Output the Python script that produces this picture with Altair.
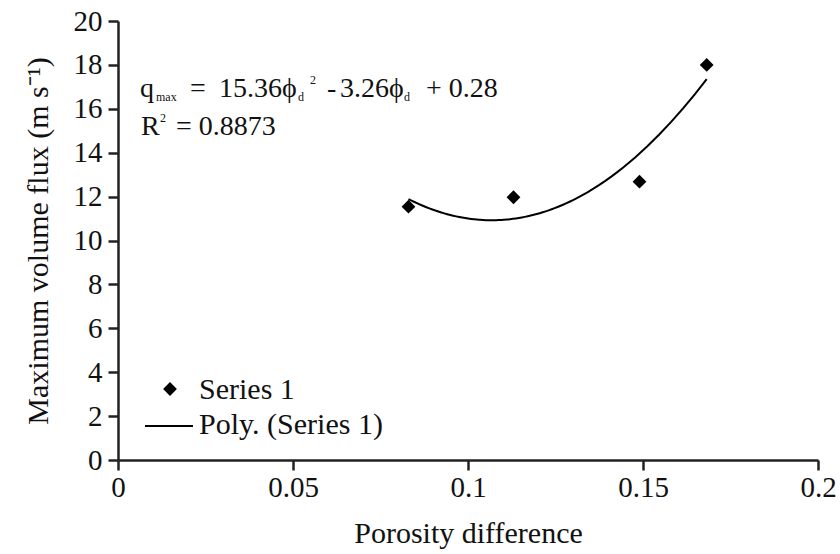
import altair as alt
import pandas as pd

# Data
porosity = [0.083, 0.113, 0.149, 0.1682]
flux = [11.54, 11.97, 12.68, 18.0]

df = pd.DataFrame({"porosity": porosity, "flux": flux})

FONT = "Liberation Serif"
W, H = 700, 439

xs = alt.Scale(domain=[0, 0.2], nice=False, zero=True)
ys = alt.Scale(domain=[0, 20], nice=False)

base = alt.Chart(df)

points = base.mark_point(shape="diamond", filled=True, size=190, color="black", opacity=1).encode(
    x=alt.X("porosity:Q", scale=xs,
            axis=alt.Axis(title="Porosity difference", values=[0, 0.05, 0.1, 0.15, 0.2],
                          labelExpr="datum.value == 0 ? '0' : format(datum.value, '~g')")),
    y=alt.Y("flux:Q", scale=ys,
            axis=alt.Axis(title="Maximum volume flux (m s⁻¹)", values=list(range(0, 21, 2)))),
)

trend = base.transform_regression(
    "porosity", "flux", method="poly", order=2
).mark_line(color="black", strokeWidth=2).encode(
    x=alt.X("porosity:Q", scale=xs),
    y=alt.Y("flux:Q", scale=ys),
)

def txt(s, x, y, size=28, align="left"):
    return alt.Chart(df.head(1)).mark_text(
        font=FONT, fontSize=size, align=align, baseline="alphabetic", color="#111"
    ).encode(x=alt.value(x), y=alt.value(y), text=alt.value(s))

OX, OY = 118, 21
ann = [
    txt("q", 140 - OX, 97 - OY),
    txt("max", 156 - OX, 101 - OY, size=12),
    txt("=", 190 - OX, 97 - OY),
    txt("15.36ϕ", 219 - OX, 97 - OY),
    txt("d", 298 - OX, 101 - OY, size=12),
    txt("2", 310 - OX, 84 - OY, size=12),
    txt("-", 327 - OX, 97 - OY),
    txt("3.26ϕ", 340 - OX, 97 - OY),
    txt("d", 404 - OX, 101 - OY, size=12),
    txt("+ 0.28", 426 - OX, 97 - OY),
    txt("R", 141 - OX, 135 - OY),
    txt("2", 160 - OX, 122 - OY, size=12),
    txt("= 0.8873", 176 - OX, 135 - OY),
]

legend_pt = alt.Chart(df.head(1)).mark_point(
    shape="diamond", filled=True, size=190, color="black", opacity=1
).encode(x=alt.value(170 - OX), y=alt.value(389 - OY))
legend_line = alt.Chart(df.head(1)).mark_rule(color="black", strokeWidth=2).encode(
    x=alt.value(145 - OX), x2=alt.value(193 - OX), y=alt.value(426 - OY)
)
legend_txt = [
    txt("Series 1", 199 - OX, 399 - OY, size=30),
    txt("Poly. (Series 1)", 199 - OX, 434 - OY, size=30),
]

chart = alt.layer(trend, points, *ann, legend_pt, legend_line, *legend_txt).properties(
    width=W, height=H,
    autosize=alt.AutoSizeParams(type="none"),
    padding={"left": OX, "top": OY, "right": 840 - OX - W, "bottom": 554 - OY - H},
    background="white",
).configure_view(stroke=None).configure_axis(
    grid=False,
    domainColor="#222", domainWidth=2.5,
    tickColor="#222", tickWidth=2.5, tickSize=10,
    labelFont=FONT, labelFontSize=29, labelColor="#111",
    titleFont=FONT, titleFontSize=30, titleColor="#111", titleFontWeight="normal",
).configure_axisX(labelPadding=3, titlePadding=16, labelFlush=False).configure_axisY(
    labelPadding=6, titlePadding=20
)

chart.save("out.html", embed_options={"renderer": "svg", "actions": False})
